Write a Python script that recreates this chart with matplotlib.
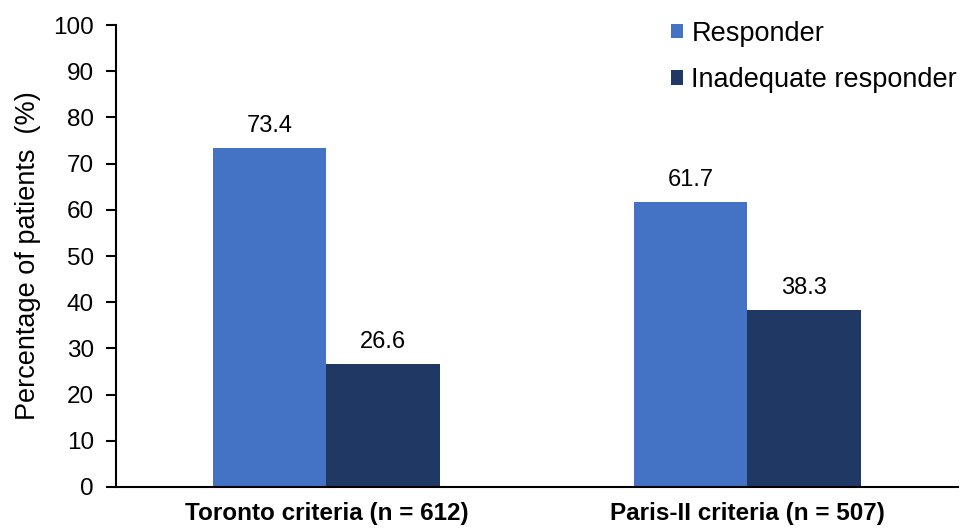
import matplotlib.pyplot as plt
import numpy as np

plt.rcParams['font.family'] = ['Liberation Sans', 'DejaVu Sans']

categories = ['Toronto criteria (n = 612)', 'Paris-II criteria (n = 507)']
responder = [73.4, 61.7]
inadequate = [26.6, 38.3]
series_names = ['Responder', 'Inadequate responder']
colors = ['#4472C4', '#203864']

fig = plt.figure(figsize=(9.61, 5.29), dpi=100)
ax = fig.add_axes([0.1207, 0.0794, 0.876, 0.8733])

x = np.arange(len(categories))
w = 0.27
b1 = ax.bar(x - w / 2, responder, w, color=colors[0], label=series_names[0])
b2 = ax.bar(x + w / 2, inadequate, w, color=colors[1], label=series_names[1])

# value labels above each bar
for bars, vals in ((b1, responder), (b2, inadequate)):
    for bar, v in zip(bars, vals):
        ax.text(bar.get_x() + bar.get_width() / 2, v + 2.3, f'{v:.1f}',
                ha='center', va='bottom', fontsize=17)

ax.set_xlim(-0.5, 1.5)
ax.set_ylim(0, 100)
ax.set_yticks(range(0, 101, 10))
ax.set_xticks(x)
ax.set_xticklabels(categories, fontsize=17.5, fontweight='bold')
ax.tick_params(axis='x', length=0, pad=11)
ax.tick_params(axis='y', labelsize=17.5, length=7, width=1.5, direction='out', pad=9)
ax.set_ylabel('Percentage of patients  (%)', fontsize=19.5, labelpad=9)

for s in ('top', 'right'):
    ax.spines[s].set_visible(False)
for s in ('left', 'bottom'):
    ax.spines[s].set_linewidth(1.5)

ax.legend(loc='upper right', bbox_to_anchor=(1.028, 1.062), frameon=False,
          fontsize=19.5, handlelength=0.45, handleheight=0.45, handletextpad=0.3,
          labelspacing=0.75)

fig.savefig('out.png', dpi=100)
